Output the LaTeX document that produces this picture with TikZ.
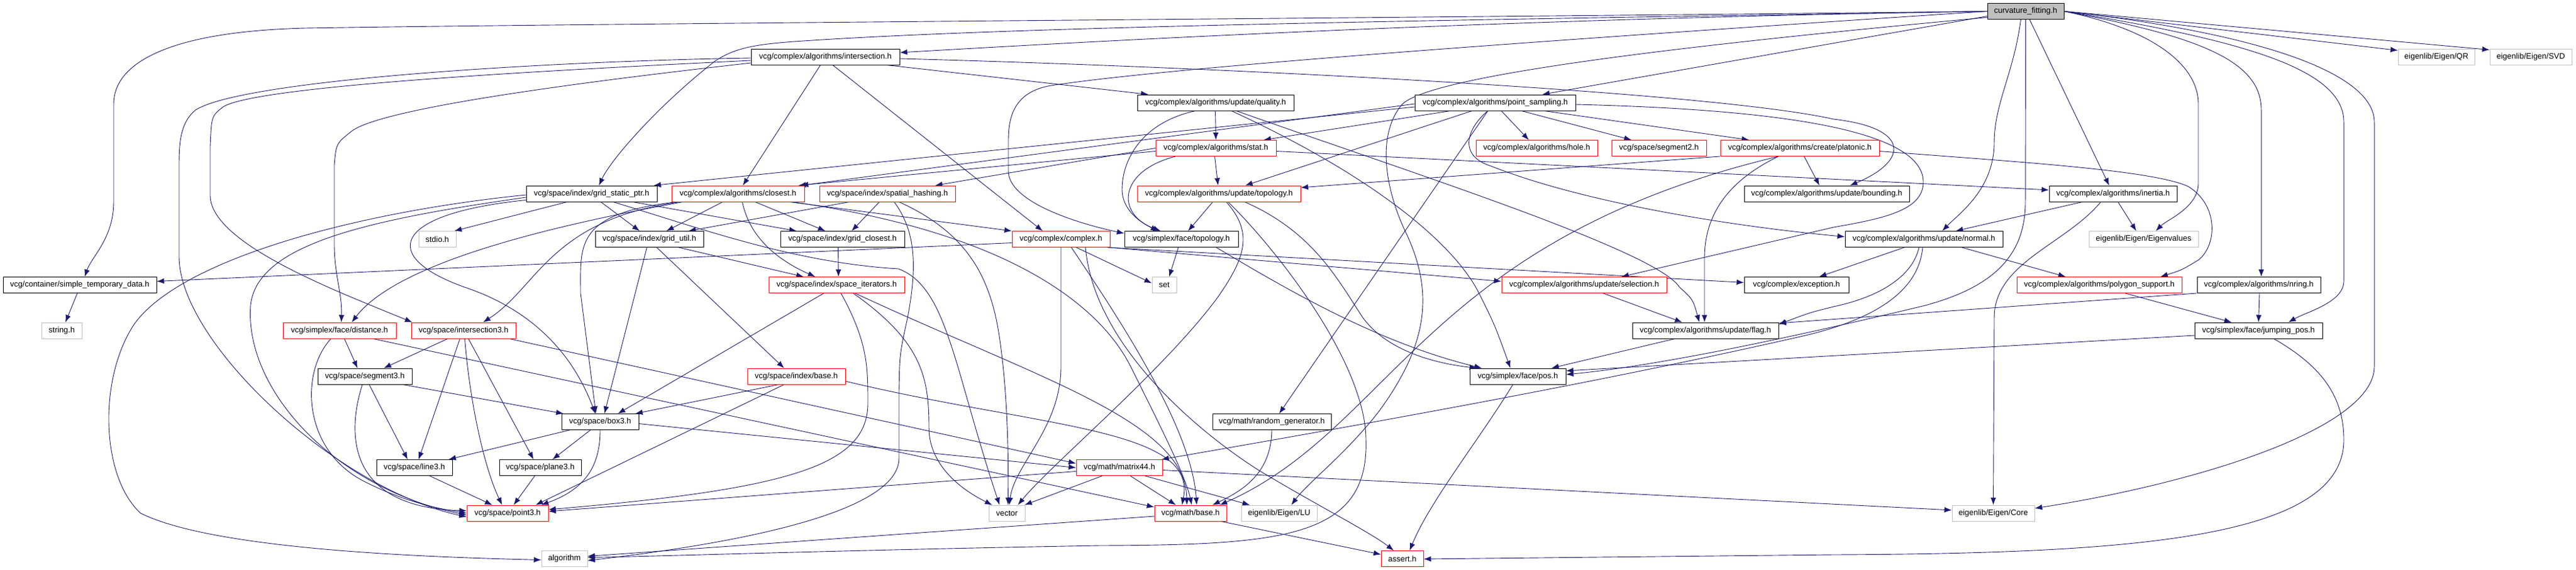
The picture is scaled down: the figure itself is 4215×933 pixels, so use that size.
\documentclass[tikz,border=0pt]{standalone}
\usepackage{fontspec}
\setmainfont{Liberation Sans}
\usetikzlibrary{arrows.meta}
\pgfdeclarelayer{bg}
\pgfsetlayers{bg,main}
\definecolor{edgecol}{RGB}{25,25,112}
\definecolor{boxred}{RGB}{255,0,0}
\definecolor{boxgray}{RGB}{191,191,191}
\definecolor{cffill}{RGB}{191,191,191}
\begin{document}
\begin{tikzpicture}[x=1pt,y=-1pt,
  nb/.style={draw=black, line width=0.9pt, fill=white, minimum height=26pt, inner sep=0pt, font=\fontsize{13}{15}\selectfont},
  rb/.style={nb, draw=boxred},
  gb/.style={nb, draw=boxgray},
  ed/.style={draw=edgecol, line width=0.9pt, -{Latex[length=12pt,width=9pt]}}]
\useasboundingbox (0,0) rectangle (4215,933);
% ---------------- nodes
\node[nb, fill=cffill, minimum width=125pt] (cf) at (3314.5,18.5) {curvature\_fitting.h};
\node[nb, minimum width=243pt] (inter) at (1350.5,93) {vcg/complex/algorithms/intersection.h};
\node[gb, minimum width=125pt] (QR) at (3986.5,93) {eigenlib/Eigen/QR};
\node[gb, minimum width=134pt] (SVD) at (4141,93) {eigenlib/Eigen/SVD};
\node[nb, minimum width=256pt] (quality) at (1989,168) {vcg/complex/algorithms/update/quality.h};
\node[nb, minimum width=263pt] (psamp) at (2446.5,168) {vcg/complex/algorithms/point\_sampling.h};
\node[rb, minimum width=197pt] (stat) at (1989.5,242.5) {vcg/complex/algorithms/stat.h};
\node[rb, minimum width=199pt] (hole) at (2514.5,242.5) {vcg/complex/algorithms/hole.h};
\node[rb, minimum width=155pt] (seg2) at (2714.5,242.5) {vcg/space/segment2.h};
\node[rb, minimum width=260pt] (platonic) at (2945,242.5) {vcg/complex/algorithms/create/platonic.h};
\node[nb, minimum width=214pt] (gsp) at (968,317) {vcg/space/index/grid\_static\_ptr.h};
\node[rb, minimum width=217pt] (closest) at (1207.5,317) {vcg/complex/algorithms/closest.h};
\node[rb, minimum width=222pt] (shash) at (1452,317) {vcg/space/index/spatial\_hashing.h};
\node[rb, minimum width=267pt] (utopo) at (1994.5,317) {vcg/complex/algorithms/update/topology.h};
\node[nb, minimum width=270pt] (bounding) at (2989,317) {vcg/complex/algorithms/update/bounding.h};
\node[nb, minimum width=209pt] (inertia) at (3457.5,317) {vcg/complex/algorithms/inertia.h};
\node[gb, minimum width=61pt] (stdio) at (715.5,391.5) {stdio.h};
\node[nb, minimum width=177pt] (gutil) at (1062.5,391.5) {vcg/space/index/grid\_util.h};
\node[nb, minimum width=203pt] (gclosest) at (1378.5,391.5) {vcg/space/index/grid\_closest.h};
\node[rb, minimum width=160pt] (complex) at (1736,391.5) {vcg/complex/complex.h};
\node[nb, minimum width=186pt] (ftopo) at (1933,391.5) {vcg/simplex/face/topology.h};
\node[nb, minimum width=258pt] (normal) at (3148,391.5) {vcg/complex/algorithms/update/normal.h};
\node[gb, minimum width=179pt] (eigval) at (3507.5,391.5) {eigenlib/Eigen/Eigenvalues};
\node[nb, minimum width=251pt] (std) at (130.5,466.5) {vcg/container/simple\_temporary\_data.h};
\node[rb, minimum width=222pt] (siter) at (1369,466.5) {vcg/space/index/space\_iterators.h};
\node[gb, minimum width=40pt] (set) at (1905,466.5) {set};
\node[rb, minimum width=270pt] (selection) at (2592,466.5) {vcg/complex/algorithms/update/selection.h};
\node[nb, minimum width=171pt] (exception) at (2939.5,466.5) {vcg/complex/exception.h};
\node[rb, minimum width=270pt] (polysup) at (3435,466.5) {vcg/complex/algorithms/polygon\_support.h};
\node[nb, minimum width=202pt] (nring) at (3696,466.5) {vcg/complex/algorithms/nring.h};
\node[gb, minimum width=66pt] (string) at (101,541) {string.h};
\node[rb, minimum width=185pt] (fdist) at (555.5,541) {vcg/simplex/face/distance.h};
\node[rb, minimum width=171pt] (inter3) at (758.5,541) {vcg/space/intersection3.h};
\node[nb, minimum width=239pt] (flag) at (2790.5,541) {vcg/complex/algorithms/update/flag.h};
\node[nb, minimum width=209pt] (jpos) at (3695.5,541) {vcg/simplex/face/jumping\_pos.h};
\node[nb, minimum width=154pt] (seg3) at (597,616) {vcg/space/segment3.h};
\node[rb, minimum width=160pt] (ibase) at (1303,616) {vcg/space/index/base.h};
\node[nb, minimum width=157pt] (pos) at (2483.5,616) {vcg/simplex/face/pos.h};
\node[nb, minimum width=126pt] (box3) at (982,690.5) {vcg/space/box3.h};
\node[nb, minimum width=194pt] (rgen) at (2081,690.5) {vcg/math/random\_generator.h};
\node[nb, minimum width=124pt] (line3) at (678,765.5) {vcg/space/line3.h};
\node[nb, minimum width=134pt] (plane3) at (884,765.5) {vcg/space/plane3.h};
\node[rb, minimum width=141pt] (m44) at (1831.5,765.5) {vcg/math/matrix44.h};
\node[rb, minimum width=133pt] (point3) at (830.5,840) {vcg/space/point3.h};
\node[gb, minimum width=59pt] (vector) at (1647.5,840) {vector};
\node[rb, minimum width=118pt] (mbase) at (1948,840) {vcg/math/base.h};
\node[gb, minimum width=124pt] (LU) at (2093,840) {eigenlib/Eigen/LU};
\node[gb, minimum width=135pt] (core) at (3261.5,840) {eigenlib/Eigen/Core};
\node[gb, minimum width=75pt] (algorithm) at (923.5,914.5) {algorithm};
\node[rb, minimum width=69pt] (assert) at (2294.5,914.5) {assert.h};
% ---------------- edges
\begin{pgfonlayer}{bg}
\fill[white] (0,0) rectangle (4215,933);
% curvature_fitting.h
\draw[ed] (cf.west) .. controls (2400,32) and (1750,70) .. ([yshift=7pt]inter.east);
\draw[ed] ([yshift=-8pt]cf.west) -- ([xshift=77pt]psamp.north);
\draw[ed] (cf.west) .. controls (2600,30) and (1700,40) .. (1300,68) .. controls (1230,73) and (1200,80) .. (1170,100) .. controls (1080,170) and (1000,260) .. ([xshift=12pt]gsp.north);
\draw[ed] (cf.west) .. controls (2500,28) and (1000,38) .. (500,46) .. controls (260,52) and (186,110) .. (186,170) -- (186,330) .. controls (186,390) and (150,420) .. ([xshift=8pt]std.north);
\draw[ed] (cf.west) .. controls (2700,55) and (1950,105) .. (1720,140) .. controls (1660,150) and (1650,190) .. (1650,230) -- (1650,280) .. controls (1650,330) and (1760,365) .. ([yshift=-4pt]ftopo.north west);
\draw[ed] (cf) -- (inertia);
\draw[ed] ([xshift=-8pt]cf.south) .. controls (3295,120) and (3263,170) .. (3263,233) .. controls (3263,310) and (3205,350) .. ([xshift=30pt]normal.north);
\draw[ed] (cf.south) -- (3314,330) .. controls (3314,420) and (3260,470) .. (3150,500) .. controls (2900,560) and (2700,600) .. ([yshift=3pt]pos.east);
\draw[ed] (cf.east) .. controls (3700,55) and (3885,120) .. (3885,200) -- (3885,600) .. controls (3885,700) and (3600,790) .. ([yshift=8pt]core.east);
\draw[ed] (cf.east) .. controls (3600,60) and (3700,100) .. (3700,180) -- ([xshift=4pt]nring.north);
\draw[ed] (cf.east) .. controls (3700,70) and (3835,120) .. (3835,200) -- (3835,460) .. controls (3835,495) and (3775,510) .. ([xshift=-56pt]jpos.north east);
\draw[ed] (cf.east) .. controls (3530,50) and (3597,110) .. (3597,170) -- (3597,300) .. controls (3597,340) and (3545,360) .. ([xshift=20pt]eigval.north);
\draw[ed] (cf.east) -- ([yshift=-3pt]QR.north west);
\draw[ed] (cf.east) -- ([yshift=-2pt]SVD.north west);
\draw[ed] ([yshift=-10pt]cf.west) .. controls (2800,70) and (2350,120) .. (2295,170) .. controls (2255,215) and (2262,300) .. (2300,380) .. controls (2345,475) and (2340,560) .. (2255,675) .. controls (2200,745) and (2140,790) .. ([xshift=20pt]LU.north);
% intersection.h
\draw[ed] ([xshift=-8pt]inter.south) -- ([xshift=8pt]closest.north);
\draw[ed] ([xshift=12pt]inter.south) -- ([xshift=-30pt]complex.north);
\draw[ed] ([xshift=100pt]inter.south) -- ([xshift=-110pt]quality.north);
\draw[ed] ([yshift=-3pt]inter.east) .. controls (2000,110) and (2800,150) .. (3000,195) .. controls (3130,210) and (3120,265) .. ([xshift=38pt]bounding.north);
\draw[ed] ([yshift=-2pt]inter.west) .. controls (900,100) and (400,130) .. (320,180) .. controls (296,200) and (293,230) .. (293,270) -- (293,420) .. controls (293,560) and (550,800) .. ([yshift=-6pt]point3.west);
\draw[ed] ([yshift=-6pt]inter.west) .. controls (900,115) and (420,140) .. (365,175) .. controls (346,190) .. (344,240) -- (344,320) .. controls (344,400) and (560,480) .. ([xshift=2pt]inter3.north west);
\draw[ed] ([yshift=-10pt]inter.west) .. controls (900,140) and (620,180) .. (575,215) .. controls (550,235) .. (547,270) -- (547,400) .. controls (547,450) and (560,480) .. ([xshift=3pt]fdist.north);
% point_sampling.h
\draw[ed] ([xshift=-73pt]psamp.south) -- ([xshift=78pt]stat.north);
\draw[ed] ([xshift=-38pt]psamp.south) -- ([xshift=43pt]utopo.north);
\draw[ed] ([xshift=10pt]psamp.south) -- ([xshift=-13pt]hole.north);
\draw[ed] ([xshift=43pt]psamp.south) -- ([xshift=-45pt]seg2.north);
\draw[ed] ([xshift=80pt]psamp.south) -- ([xshift=-83pt]platonic.north);
\draw[ed] ([xshift=-12pt]psamp.south) -- ([xshift=12pt]rgen.north);
\draw[ed] ([xshift=-12pt]psamp.south) .. controls (2400,210) and (2385,255) .. (2440,272) .. controls (2600,335) and (2850,372) .. ([yshift=4pt]normal.west);
\draw[ed] ([yshift=-3pt]psamp.east) .. controls (2950,180) and (3150,220) .. (3147,300) .. controls (3145,345) and (3080,358) .. (3000,372) -- ([xshift=61pt]selection.north);
\draw[ed] ([yshift=-7pt]psamp.west) -- ([xshift=-6pt]gsp.north east);
\draw[ed] ([yshift=-2pt]psamp.west) -- ([xshift=-6pt]closest.north east);
% quality.h
\draw[ed] ([xshift=-0.5pt]quality.south) -- (stat.north);
\draw[ed] ([xshift=-33pt]quality.south) .. controls (1870,200) and (1836,260) .. (1836,310) .. controls (1836,345) and (1868,365) .. ([xshift=-38pt]ftopo.north);
\draw[ed] ([xshift=34pt]quality.south) .. controls (2300,280) and (2710,410) .. (2748,470) .. controls (2770,490) .. ([xshift=-10pt]flag.north);
\draw[ed] ([xshift=26pt]quality.south) .. controls (2250,290) and (2380,400) .. (2420,480) .. controls (2445,530) .. ([xshift=-12pt]pos.north);
% stat.h
\draw[ed] ([xshift=-2pt]stat.south) -- ([xshift=-1.5pt]utopo.north);
\draw[ed] ([yshift=-5pt]stat.east) -- ([yshift=6pt]inertia.west);
\draw[ed] ([xshift=-66pt]stat.south) .. controls (1830,280) and (1825,350) .. ([xshift=-34pt]ftopo.north);
\draw[ed] (stat.west) -- ([xshift=78pt]shash.north);
\draw[ed] ([yshift=-5pt]stat.west) -- ([xshift=-10pt]closest.north east);
% update/topology.h
\draw[ed] ([xshift=-10pt]utopo.south) -- ([xshift=11pt]ftopo.north);
\draw[ed] ([xshift=12pt]utopo.south) .. controls (2050,380) and (2040,420) .. (1990,490) .. controls (1900,610) and (1720,760) .. ([xshift=18pt]vector.north);
\draw[ed] ([xshift=15pt]utopo.south) .. controls (2100,420) and (2235,600) .. (2235,720) .. controls (2240,880) and (2100,892) .. (1800,893) .. controls (1400,900) and (1100,910) .. ([yshift=2pt]algorithm.east);
\draw[ed] ([xshift=42pt]utopo.south) .. controls (2150,380) and (2190,460) .. (2230,520) .. controls (2270,575) and (2350,595) .. ([xshift=12pt]pos.north west);
% face/topology.h
\draw[ed] ([xshift=57pt]ftopo.south) .. controls (2100,470) and (2250,560) .. ([xshift=20pt]pos.north west);
\draw[ed] ([xshift=-5pt]ftopo.south) -- ([xshift=8pt]set.north);
% complex.h
\draw[ed] ([yshift=-6pt]complex.west) -- ([yshift=6pt]std.east);
\draw[ed] ([xshift=25pt]complex.south) -- ([yshift=3pt]set.west);
\draw[ed] ([xshift=17pt]complex.south) .. controls (1830,520) and (1950,700) .. ([xshift=10pt]mbase.north);
\draw[ed] (complex.south) -- (1736,600) .. controls (1736,700) and (1660,760) .. ([xshift=4pt]vector.north);
\draw[ed] ([xshift=-5pt]complex.south east) -- ([yshift=4pt]exception.west);
\draw[ed] ([xshift=-2pt]complex.south east) -- ([yshift=6pt]selection.west);
\draw[ed] ([xshift=40pt]complex.south) .. controls (1790,560) and (1950,700) .. (2060,770) .. controls (2160,830) and (2240,870) .. ([xshift=-14pt]assert.north);
% normal.h
\draw[ed] ([xshift=-32pt]normal.south) -- ([xshift=37pt]exception.north);
\draw[ed] ([xshift=62pt]normal.south) -- ([xshift=-55pt]polysup.north);
\draw[ed] ([xshift=-8pt]normal.south) .. controls (3130,450) and (3080,485) .. (3000,502) .. controls (2960,512) .. ([yshift=10pt]flag.east);
\draw[ed] ([xshift=-2pt]normal.south) .. controls (3140,470) and (3080,520) .. (2950,550) .. controls (2600,630) and (2200,700) .. ([xshift=-2pt]m44.north east);
% inertia.h
\draw[ed] ([xshift=-50pt]inertia.south) -- ([xshift=52pt]normal.north);
\draw[ed] ([xshift=8pt]inertia.south) -- ([xshift=-12pt]eigval.north);
\draw[ed] ([xshift=-20pt]inertia.south) .. controls (3380,400) and (3263,430) .. (3263,520) -- (core.north);
% polygon_support, nring, jumping_pos
\draw[ed] ([xshift=42pt]polysup.south) -- ([xshift=-44pt]jpos.north);
\draw[ed] ([xshift=1pt]nring.south) -- (jpos.north);
\draw[ed] (nring.south west) -- ([yshift=12pt]flag.east);
\draw[ed] ([yshift=-8pt]jpos.west) -- ([yshift=9pt]pos.east);
\draw[ed] ([xshift=25pt]jpos.south) .. controls (3800,600) and (3835,650) .. (3835,720) .. controls (3835,880) and (3500,906) .. (3000,908) -- ([yshift=-0.5pt]assert.east);
% selection, flag, pos
\draw[ed] ([xshift=31pt]selection.south) -- ([xshift=-38pt]flag.north);
\draw[ed] ([xshift=-50pt]flag.south) -- ([xshift=55pt]pos.north);
\draw[ed] ([xshift=-8pt]pos.south) .. controls (2420,720) and (2340,820) .. ([xshift=12pt]assert.north);
% platonic.h
\draw[ed] (platonic.south west) -- ([yshift=10pt]utopo.east);
\draw[ed] ([xshift=7pt]platonic.south) -- ([xshift=-12pt]bounding.north);
\draw[ed] ([yshift=-5pt]platonic.east) .. controls (3300,265) and (3520,278) .. (3580,305) .. controls (3630,335) and (3628,400) .. (3598,425) .. controls (3570,442) .. ([xshift=100pt]polysup.north);
\draw[ed] ([xshift=-35pt]platonic.south) .. controls (2840,290) and (2790,340) .. (2789,420) -- ([xshift=-1.5pt]flag.north);
\draw[ed] ([xshift=-35pt]platonic.south) .. controls (2330,395) and (2280,700) .. ([xshift=48pt]mbase.north);
% grid_static_ptr.h
\draw[ed] ([xshift=-40pt]gsp.south) -- ([xshift=-3pt]stdio.north east);
\draw[ed] ([xshift=15pt]gsp.south) -- ([xshift=-16pt]gutil.north);
\draw[ed] ([xshift=67pt]gsp.south) -- ([xshift=-75pt]gclosest.north);
\draw[ed] ([yshift=3pt]gsp.south west) .. controls (640,350) and (620,420) .. (760,470) .. controls (850,500) and (930,560) .. ([xshift=-8pt]box3.north);
\draw[ed] ([yshift=-6pt]gsp.west) .. controls (600,360) and (420,400) .. (410,500) .. controls (400,640) and (550,800) .. ([yshift=-3pt]point3.west);
\draw[ed] ([yshift=-2pt]gsp.west) .. controls (600,345) and (300,420) .. (220,530) .. controls (160,620) and (165,780) .. (230,840) .. controls (350,900) and (700,912) .. ([yshift=-2pt]algorithm.west);
\draw[ed] ([xshift=35pt]gsp.south) .. controls (1150,375) and (1300,430) .. (1470,440) .. controls (1550,470) and (1560,600) .. ([xshift=-12pt]vector.north);
% closest.h
\draw[ed] ([xshift=-25pt]closest.south) -- ([xshift=28pt]gutil.north);
\draw[ed] ([xshift=28pt]closest.south) -- ([xshift=-28pt]gclosest.north);
\draw[ed] ([xshift=7pt]closest.south) .. controls (1225,380) and (1260,420) .. ([xshift=-35pt]siter.north);
\draw[ed] ([xshift=84pt]closest.south) -- (complex.north west);
\draw[ed] ([xshift=88pt]closest.south) .. controls (1650,380) and (1800,500) .. (1850,600) .. controls (1900,700) and (1940,780) .. ([xshift=2pt]mbase.north);
\draw[ed] ([xshift=-90pt]closest.south) .. controls (900,370) and (650,430) .. ([xshift=20pt]fdist.north);
\draw[ed] ([xshift=-95pt]closest.south) .. controls (900,360) and (880,470) .. ([xshift=32pt]inter3.north);
\draw[ed] ([xshift=-100pt]closest.south) .. controls (940,350) and (950,400) .. (950,480) -- ([xshift=-7pt]box3.north);
% spatial_hashing.h
\draw[ed] ([xshift=-62pt]shash.south) -- ([xshift=64pt]gutil.north);
\draw[ed] ([xshift=-13pt]shash.south) -- ([xshift=15pt]gclosest.north);
\draw[ed] ([xshift=11pt]shash.south) .. controls (1500,380) and (1500,440) .. (1485,520) .. controls (1472,580) .. (1471,640) -- (1471,750) .. controls (1471,840) and (1200,890) .. ([yshift=-3pt]algorithm.east);
\draw[ed] ([xshift=19pt]shash.south) .. controls (1580,380) and (1620,450) .. (1635,550) .. controls (1650,650) and (1650,760) .. ([xshift=2pt]vector.north);
% grid_closest, grid_util
\draw[ed] ([xshift=-7pt]gclosest.south) -- ([xshift=3pt]siter.north);
\draw[ed] ([xshift=48pt]gutil.south) -- ([xshift=-54pt]siter.north);
\draw[ed] ([xshift=-4pt]gutil.south) -- ([xshift=7pt]box3.north);
\draw[ed] ([xshift=12pt]gutil.south) -- ([xshift=-20pt]ibase.north);
% space_iterators.h
\draw[ed] ([xshift=-21pt]siter.south) -- ([xshift=29pt]box3.north);
\draw[ed] ([xshift=7pt]siter.south) .. controls (1420,560) and (1420,600) .. (1420,660) .. controls (1420,760) and (1300,800) .. ([yshift=6pt]point3.east);
\draw[ed] ([xshift=27pt]siter.south) .. controls (1510,560) and (1520,620) .. (1520,700) .. controls (1520,760) and (1570,800) .. ([xshift=-24pt]vector.north);
\draw[ed] ([xshift=30pt]siter.south) .. controls (1700,620) and (1940,690) .. ([xshift=-6pt]mbase.north);
% index/base.h
\draw[ed] ([xshift=-29pt]ibase.south) -- ([xshift=-6pt]box3.north east);
\draw[ed] ([xshift=-20pt]ibase.south) -- ([xshift=46pt]point3.north);
\draw[ed] ([yshift=-8pt]ibase.east) .. controls (1700,700) and (1960,700) .. ([xshift=-14pt]mbase.north);
% box3.h
\draw[ed] ([xshift=-50pt]box3.south) -- ([xshift=56pt]line3.north);
\draw[ed] ([xshift=-16pt]box3.south) -- ([xshift=20pt]plane3.north);
\draw[ed] (box3.south) .. controls (982,760) and (960,800) .. ([xshift=55pt]point3.north);
\draw[ed] ([yshift=-3pt]box3.east) -- (m44.west);
% line3, plane3
\draw[ed] ([xshift=25pt]line3.south) -- ([xshift=-25pt]point3.north);
\draw[ed] ([xshift=-9pt]plane3.south) -- ([xshift=10pt]point3.north);
% segment3.h
\draw[ed] ([xshift=7pt]seg3.south) -- ([xshift=-11pt]line3.north);
\draw[ed] ([xshift=-4pt]seg3.south) .. controls (570,700) and (560,830) .. ([yshift=4pt]point3.west);
\draw[ed] ([xshift=62pt]seg3.south) -- ([xshift=-60pt]box3.north);
% intersection3.h
\draw[ed] ([xshift=-26pt]inter3.south) -- ([xshift=31pt]seg3.north);
\draw[ed] ([xshift=-6pt]inter3.south) -- ([xshift=7pt]line3.north);
\draw[ed] ([xshift=2pt]inter3.south) .. controls (768,650) and (790,760) .. ([xshift=-9pt]point3.north);
\draw[ed] ([xshift=8pt]inter3.south) -- ([xshift=-11pt]plane3.north);
\draw[ed] ([xshift=-11pt]inter3.south east) -- ([yshift=7pt]m44.west);
% face/distance.h
\draw[ed] ([xshift=8pt]fdist.south) -- ([xshift=-12pt]seg3.north);
\draw[ed] ([xshift=-14pt]fdist.south) .. controls (490,610) and (495,740) .. (600,790) .. controls (650,815) and (700,830) .. (point3.west);
\draw[ed] ([xshift=55pt]fdist.south) -- ([yshift=10pt]mbase.west);
% matrix44.h
\draw[ed] ([xshift=18pt]m44.south) -- ([xshift=-24pt]mbase.north);
\draw[ed] ([xshift=-28pt]m44.south) -- ([xshift=-1pt]vector.north east);
\draw[ed] ([xshift=42pt]m44.south) -- ([xshift=-48pt]LU.north);
\draw[ed] ([yshift=-4pt]m44.east) -- ([yshift=5pt]core.west);
\draw[ed] ([yshift=-6pt]m44.west) -- ([yshift=3pt]point3.east);
% math/base.h, random_generator.h
\draw[ed] ([yshift=-5pt]mbase.west) -- ([yshift=4pt]algorithm.east);
\draw[ed] ([xshift=50pt]mbase.south) -- ([yshift=7pt]assert.west);
\draw[ed] (rgen.south) .. controls (2080,770) and (2040,800) .. ([xshift=36pt]mbase.north);
% simple_temporary_data.h
\draw[ed] ([xshift=-4pt]std.south) -- ([xshift=6pt]string.north);
\end{pgfonlayer}
\end{tikzpicture}
\end{document}
